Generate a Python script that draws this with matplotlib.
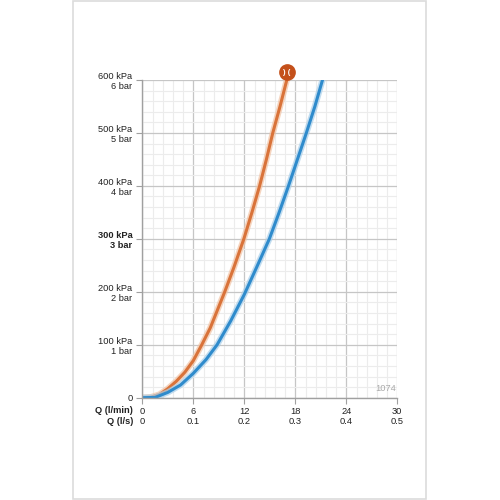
import matplotlib.pyplot as plt
import matplotlib.transforms as mtransforms
from matplotlib.patches import Rectangle

plt.rcParams['font.family'] = ['Liberation Sans', 'DejaVu Sans']

# flow / pressure curves (Q in l/min, P in kPa)
q_orange = [0, 1, 2, 3, 4, 5, 6, 7, 8, 9.7, 10.75, 11.95, 12.9, 13.8, 14.6, 15.35, 16.2, 17.0]
p_orange = [0, 1, 6, 17, 31, 48, 70, 100, 132, 200, 245, 300, 350, 400, 450, 500, 550, 600]

q_blue = [0, 1.5, 3, 4.5, 6, 7.5, 8.8, 10.4, 12.0, 13.5, 14.95, 16.1, 17.2, 19.3, 20.3, 21.2]
p_blue = [0, 0.5, 10, 24, 46, 72, 100, 145, 195, 248, 300, 350, 400, 500, 550, 600]

# ticks
x_lmin = [0, 6, 12, 18, 24, 30]
x_ls = ['0', '0.1', '0.2', '0.3', '0.4', '0.5']
y_kpa = [0, 100, 200, 300, 400, 500, 600]
y_labels = ['0', '100 kPa\n1 bar', '200 kPa\n2 bar', '300 kPa\n3 bar',
            '400 kPa\n4 bar', '500 kPa\n5 bar', '600 kPa\n6 bar']

fig = plt.figure(figsize=(5, 5), dpi=100)
fig.patches.append(Rectangle((73 / 500, 0.002), 353 / 500, 0.996, transform=fig.transFigure,
                             fill=False, edgecolor='#dcdcdc', linewidth=1.2))

ax = fig.add_axes([0.2846, 0.2046, 0.51, 0.6354])
ax.set_xlim(0, 30)
ax.set_ylim(0, 600)

# grid
minor_x = [i * 1.2 for i in range(26)]
minor_y = [i * 20 for i in range(31)]
ax.set_xticks(minor_x, minor=True)
ax.set_yticks(minor_y, minor=True)
ax.grid(which='minor', color='#ececec', linewidth=0.8)
ax.grid(which='major', color='#c6c6c6', linewidth=0.9)
ax.tick_params(which='minor', length=0)
ax.set_axisbelow(True)

for side in ['top', 'right']:
    ax.spines[side].set_visible(False)
for side in ['left', 'bottom']:
    ax.spines[side].set_color('#a0a0a0')
    ax.spines[side].set_linewidth(1.0)

ax.set_xticks(x_lmin)
ax.set_xticklabels([f"{a}\n{b}" for a, b in zip(x_lmin, x_ls)], linespacing=1.15)
ax.set_yticks(y_kpa)
ax.set_yticklabels(y_labels, linespacing=1.15, ha='right', multialignment='right')
ax.tick_params(which='major', length=4, color='#a0a0a0', labelsize=6.7,
               labelcolor='#222222', pad=3)
ax.get_yticklabels()[3].set_fontweight('bold')

# curves with soft halo
ax.plot(q_orange, p_orange, color='#f2c3a4', linewidth=4.5, alpha=0.7,
        solid_capstyle='round', solid_joinstyle='round')
ax.plot(q_orange, p_orange, color='#d9733a', linewidth=2.2,
        solid_capstyle='round', solid_joinstyle='round')
ax.plot(q_blue, p_blue, color='#a9cfea', linewidth=4.5, alpha=0.7,
        solid_capstyle='round', solid_joinstyle='round')
ax.plot(q_blue, p_blue, color='#2f8bcc', linewidth=2.2,
        solid_capstyle='round', solid_joinstyle='round')

# symbol at the top of the orange curve
off = mtransforms.offset_copy(ax.transData, fig=fig, y=8, units='dots')
ax.plot([q_orange[-1]], [p_orange[-1]], 'o', markersize=11, color='#c4501a',
        transform=off, clip_on=False, zorder=5)
ax.text(q_orange[-1], p_orange[-1], ') (', transform=off, color='white', fontsize=5.5,
        fontweight='bold', ha='center', va='center', clip_on=False, zorder=6)

ax.text(29.8, 8, '1074', color='#aaaaaa', fontsize=6.7, ha='right', va='bottom')

fig.text(133 / 500, 1 - 410.5 / 500, 'Q (l/min)', fontsize=6.7, fontweight='bold',
         ha='right', va='center', color='#222222')
fig.text(133 / 500, 1 - 421 / 500, 'Q (l/s)', fontsize=6.7, fontweight='bold',
         ha='right', va='center', color='#222222')

fig.savefig('out.png', dpi=100)
